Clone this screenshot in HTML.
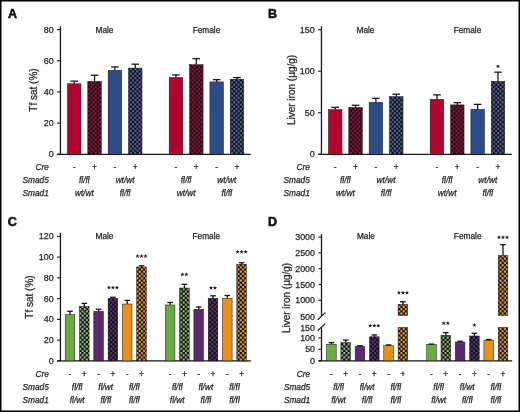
<!DOCTYPE html>
<html><head><meta charset="utf-8"><title>Figure</title>
<style>html,body{margin:0;padding:0;background:#fff;}body{width:520px;height:412px;overflow:hidden;font-family:"Liberation Sans", sans-serif;}svg{display:block;will-change:transform;}</style>
</head><body>
<svg width="520" height="412" viewBox="0 0 520 412" font-family='"Liberation Sans", sans-serif'><defs><pattern id="pred" patternUnits="userSpaceOnUse" width="4.4" height="4.4"><rect width="4.4" height="4.4" fill="#2a0410"/><rect x="0.1" y="0.1" width="2" height="2" rx="0.5" fill="#84203f"/><rect x="2.3" y="2.3" width="2" height="2" rx="0.5" fill="#84203f"/></pattern><pattern id="pblue" patternUnits="userSpaceOnUse" width="4.4" height="4.4"><rect width="4.4" height="4.4" fill="#0a0c20"/><rect x="0.1" y="0.1" width="2" height="2" rx="0.5" fill="#5f6e92"/><rect x="2.3" y="2.3" width="2" height="2" rx="0.5" fill="#5f6e92"/></pattern><pattern id="pgreen" patternUnits="userSpaceOnUse" width="4.4" height="4.4"><rect width="4.4" height="4.4" fill="#040a02"/><rect x="0.1" y="0.1" width="2" height="2" rx="0.5" fill="#a2c888"/><rect x="2.3" y="2.3" width="2" height="2" rx="0.5" fill="#a2c888"/></pattern><pattern id="ppurple" patternUnits="userSpaceOnUse" width="4.4" height="4.4"><rect width="4.4" height="4.4" fill="#10061a"/><rect x="0.1" y="0.1" width="2" height="2" rx="0.5" fill="#5e4676"/><rect x="2.3" y="2.3" width="2" height="2" rx="0.5" fill="#5e4676"/></pattern><pattern id="porange" patternUnits="userSpaceOnUse" width="4.4" height="4.4"><rect width="4.4" height="4.4" fill="#120800"/><rect x="0.1" y="0.1" width="2" height="2" rx="0.5" fill="#f0b45c"/><rect x="2.3" y="2.3" width="2" height="2" rx="0.5" fill="#f0b45c"/></pattern></defs><rect width="520" height="412" fill="#fff"/><text x="8.1" y="18.4" font-size="12.5" text-anchor="start" fill="#111" stroke="#111" stroke-width="0.55" font-weight="bold">A</text><line x1="60.45" y1="26.4" x2="60.45" y2="154.3" stroke="#161616" stroke-width="1.3"/><line x1="57" y1="154.3" x2="250.8" y2="154.3" stroke="#161616" stroke-width="1.3"/><line x1="57" y1="154.3" x2="60.45" y2="154.3" stroke="#161616" stroke-width="1.1"/><text x="53.6" y="157.3" font-size="8.9" text-anchor="end" fill="#1e1e1e" stroke="#1e1e1e" stroke-width="0.25">0</text><line x1="57" y1="123.12" x2="60.45" y2="123.12" stroke="#161616" stroke-width="1.1"/><text x="53.6" y="126.12" font-size="8.9" text-anchor="end" fill="#1e1e1e" stroke="#1e1e1e" stroke-width="0.25">20</text><line x1="57" y1="91.94" x2="60.45" y2="91.94" stroke="#161616" stroke-width="1.1"/><text x="53.6" y="94.94" font-size="8.9" text-anchor="end" fill="#1e1e1e" stroke="#1e1e1e" stroke-width="0.25">40</text><line x1="57" y1="60.76" x2="60.45" y2="60.76" stroke="#161616" stroke-width="1.1"/><text x="53.6" y="63.76" font-size="8.9" text-anchor="end" fill="#1e1e1e" stroke="#1e1e1e" stroke-width="0.25">60</text><line x1="57" y1="29.58" x2="60.45" y2="29.58" stroke="#161616" stroke-width="1.1"/><text x="53.6" y="32.58" font-size="8.9" text-anchor="end" fill="#1e1e1e" stroke="#1e1e1e" stroke-width="0.25">80</text><text transform="translate(37.3,90) rotate(-90)" font-size="10" text-anchor="middle" fill="#1e1e1e" stroke="#1e1e1e" stroke-width="0.25">Tf sat (%)</text><text x="104.5" y="32.5" font-size="8.3" text-anchor="middle" fill="#1e1e1e" stroke="#1e1e1e" stroke-width="0.25">Male</text><text x="206.5" y="32.5" font-size="8.3" text-anchor="middle" fill="#1e1e1e" stroke="#1e1e1e" stroke-width="0.25">Female</text><rect x="67.45" y="83.8" width="13.5" height="70.5" fill="#b0032f" stroke="#1a0a10" stroke-width="0.5"/><line x1="74.2" y1="81.15" x2="74.2" y2="83.8" stroke="#161616" stroke-width="1.3"/><line x1="70.4" y1="81.15" x2="78" y2="81.15" stroke="#161616" stroke-width="1.3"/><rect x="87.8" y="81.4" width="13.5" height="72.9" fill="url(#pred)" stroke="#1a0a10" stroke-width="0.5"/><line x1="94.55" y1="75.25" x2="94.55" y2="81.4" stroke="#161616" stroke-width="1.3"/><line x1="90.75" y1="75.25" x2="98.35" y2="75.25" stroke="#161616" stroke-width="1.3"/><rect x="108.15" y="70.3" width="13.5" height="84" fill="#2e4c84" stroke="#1a0a10" stroke-width="0.5"/><line x1="114.9" y1="66.95" x2="114.9" y2="70.3" stroke="#161616" stroke-width="1.3"/><line x1="111.1" y1="66.95" x2="118.7" y2="66.95" stroke="#161616" stroke-width="1.3"/><rect x="128.5" y="68.1" width="13.5" height="86.2" fill="url(#pblue)" stroke="#1a0a10" stroke-width="0.5"/><line x1="135.25" y1="64.15" x2="135.25" y2="68.1" stroke="#161616" stroke-width="1.3"/><line x1="131.45" y1="64.15" x2="139.05" y2="64.15" stroke="#161616" stroke-width="1.3"/><rect x="169.2" y="77.5" width="13.5" height="76.8" fill="#b0032f" stroke="#1a0a10" stroke-width="0.5"/><line x1="175.95" y1="74.95" x2="175.95" y2="77.5" stroke="#161616" stroke-width="1.3"/><line x1="172.15" y1="74.95" x2="179.75" y2="74.95" stroke="#161616" stroke-width="1.3"/><rect x="189.55" y="64.7" width="13.5" height="89.6" fill="url(#pred)" stroke="#1a0a10" stroke-width="0.5"/><line x1="196.3" y1="58.65" x2="196.3" y2="64.7" stroke="#161616" stroke-width="1.3"/><line x1="192.5" y1="58.65" x2="200.1" y2="58.65" stroke="#161616" stroke-width="1.3"/><rect x="209.9" y="81.9" width="13.5" height="72.4" fill="#2e4c84" stroke="#1a0a10" stroke-width="0.5"/><line x1="216.65" y1="79.65" x2="216.65" y2="81.9" stroke="#161616" stroke-width="1.3"/><line x1="212.85" y1="79.65" x2="220.45" y2="79.65" stroke="#161616" stroke-width="1.3"/><rect x="230.25" y="79.2" width="13.5" height="75.1" fill="url(#pblue)" stroke="#1a0a10" stroke-width="0.5"/><line x1="237" y1="77.55" x2="237" y2="79.2" stroke="#161616" stroke-width="1.3"/><line x1="233.2" y1="77.55" x2="240.8" y2="77.55" stroke="#161616" stroke-width="1.3"/><text x="48.8" y="170.2" font-size="8.3" text-anchor="end" fill="#1e1e1e" stroke="#1e1e1e" stroke-width="0.25" font-style="italic">Cre</text><text x="48.8" y="183.3" font-size="8.3" text-anchor="end" fill="#1e1e1e" stroke="#1e1e1e" stroke-width="0.25" font-style="italic">Smad5</text><text x="48.8" y="196.2" font-size="8.3" text-anchor="end" fill="#1e1e1e" stroke="#1e1e1e" stroke-width="0.25" font-style="italic">Smad1</text><text x="74.2" y="170.4" font-size="8.3" text-anchor="middle" fill="#1e1e1e" stroke="#1e1e1e" stroke-width="0.25">-</text><text x="94.55" y="170.4" font-size="8.3" text-anchor="middle" fill="#1e1e1e" stroke="#1e1e1e" stroke-width="0.25">+</text><text x="114.9" y="170.4" font-size="8.3" text-anchor="middle" fill="#1e1e1e" stroke="#1e1e1e" stroke-width="0.25">-</text><text x="135.25" y="170.4" font-size="8.3" text-anchor="middle" fill="#1e1e1e" stroke="#1e1e1e" stroke-width="0.25">+</text><text x="175.95" y="170.4" font-size="8.3" text-anchor="middle" fill="#1e1e1e" stroke="#1e1e1e" stroke-width="0.25">-</text><text x="196.3" y="170.4" font-size="8.3" text-anchor="middle" fill="#1e1e1e" stroke="#1e1e1e" stroke-width="0.25">+</text><text x="216.65" y="170.4" font-size="8.3" text-anchor="middle" fill="#1e1e1e" stroke="#1e1e1e" stroke-width="0.25">-</text><text x="237" y="170.4" font-size="8.3" text-anchor="middle" fill="#1e1e1e" stroke="#1e1e1e" stroke-width="0.25">+</text><text x="84.38" y="183.3" font-size="8.3" text-anchor="middle" fill="#1e1e1e" stroke="#1e1e1e" stroke-width="0.25" font-style="italic">fl/fl</text><text x="84.38" y="196.2" font-size="8.3" text-anchor="middle" fill="#1e1e1e" stroke="#1e1e1e" stroke-width="0.25" font-style="italic">wt/wt</text><text x="125.08" y="183.3" font-size="8.3" text-anchor="middle" fill="#1e1e1e" stroke="#1e1e1e" stroke-width="0.25" font-style="italic">wt/wt</text><text x="125.08" y="196.2" font-size="8.3" text-anchor="middle" fill="#1e1e1e" stroke="#1e1e1e" stroke-width="0.25" font-style="italic">fl/fl</text><text x="186.12" y="183.3" font-size="8.3" text-anchor="middle" fill="#1e1e1e" stroke="#1e1e1e" stroke-width="0.25" font-style="italic">fl/fl</text><text x="186.12" y="196.2" font-size="8.3" text-anchor="middle" fill="#1e1e1e" stroke="#1e1e1e" stroke-width="0.25" font-style="italic">wt/wt</text><text x="226.82" y="183.3" font-size="8.3" text-anchor="middle" fill="#1e1e1e" stroke="#1e1e1e" stroke-width="0.25" font-style="italic">wt/wt</text><text x="226.82" y="196.2" font-size="8.3" text-anchor="middle" fill="#1e1e1e" stroke="#1e1e1e" stroke-width="0.25" font-style="italic">fl/fl</text><text x="268" y="18.4" font-size="12.5" text-anchor="start" fill="#111" stroke="#111" stroke-width="0.55" font-weight="bold">B</text><line x1="321.45" y1="26.3" x2="321.45" y2="154.3" stroke="#161616" stroke-width="1.3"/><line x1="318" y1="154.3" x2="511.8" y2="154.3" stroke="#161616" stroke-width="1.3"/><line x1="318" y1="154.3" x2="321.45" y2="154.3" stroke="#161616" stroke-width="1.1"/><text x="314.6" y="157.3" font-size="8.9" text-anchor="end" fill="#1e1e1e" stroke="#1e1e1e" stroke-width="0.25">0</text><line x1="318" y1="112.77" x2="321.45" y2="112.77" stroke="#161616" stroke-width="1.1"/><text x="314.6" y="115.77" font-size="8.9" text-anchor="end" fill="#1e1e1e" stroke="#1e1e1e" stroke-width="0.25">50</text><line x1="318" y1="71.23" x2="321.45" y2="71.23" stroke="#161616" stroke-width="1.1"/><text x="314.6" y="74.23" font-size="8.9" text-anchor="end" fill="#1e1e1e" stroke="#1e1e1e" stroke-width="0.25">100</text><line x1="318" y1="29.7" x2="321.45" y2="29.7" stroke="#161616" stroke-width="1.1"/><text x="314.6" y="32.7" font-size="8.9" text-anchor="end" fill="#1e1e1e" stroke="#1e1e1e" stroke-width="0.25">150</text><text transform="translate(294.9,90) rotate(-90)" font-size="10" text-anchor="middle" fill="#1e1e1e" stroke="#1e1e1e" stroke-width="0.25">Liver iron (µg/g)</text><text x="365.5" y="32.5" font-size="8.3" text-anchor="middle" fill="#1e1e1e" stroke="#1e1e1e" stroke-width="0.25">Male</text><text x="467.5" y="32.5" font-size="8.3" text-anchor="middle" fill="#1e1e1e" stroke="#1e1e1e" stroke-width="0.25">Female</text><rect x="328.45" y="109.6" width="13.5" height="44.7" fill="#b0032f" stroke="#1a0a10" stroke-width="0.5"/><line x1="335.2" y1="107.35" x2="335.2" y2="109.6" stroke="#161616" stroke-width="1.3"/><line x1="331.4" y1="107.35" x2="339" y2="107.35" stroke="#161616" stroke-width="1.3"/><rect x="348.8" y="107.5" width="13.5" height="46.8" fill="url(#pred)" stroke="#1a0a10" stroke-width="0.5"/><line x1="355.55" y1="105.25" x2="355.55" y2="107.5" stroke="#161616" stroke-width="1.3"/><line x1="351.75" y1="105.25" x2="359.35" y2="105.25" stroke="#161616" stroke-width="1.3"/><rect x="369.15" y="102.3" width="13.5" height="52" fill="#2e4c84" stroke="#1a0a10" stroke-width="0.5"/><line x1="375.9" y1="98.35" x2="375.9" y2="102.3" stroke="#161616" stroke-width="1.3"/><line x1="372.1" y1="98.35" x2="379.7" y2="98.35" stroke="#161616" stroke-width="1.3"/><rect x="389.5" y="96.7" width="13.5" height="57.6" fill="url(#pblue)" stroke="#1a0a10" stroke-width="0.5"/><line x1="396.25" y1="94.15" x2="396.25" y2="96.7" stroke="#161616" stroke-width="1.3"/><line x1="392.45" y1="94.15" x2="400.05" y2="94.15" stroke="#161616" stroke-width="1.3"/><rect x="430.2" y="99.4" width="13.5" height="54.9" fill="#b0032f" stroke="#1a0a10" stroke-width="0.5"/><line x1="436.95" y1="94.85" x2="436.95" y2="99.4" stroke="#161616" stroke-width="1.3"/><line x1="433.15" y1="94.85" x2="440.75" y2="94.85" stroke="#161616" stroke-width="1.3"/><rect x="450.55" y="104.9" width="13.5" height="49.4" fill="url(#pred)" stroke="#1a0a10" stroke-width="0.5"/><line x1="457.3" y1="102.65" x2="457.3" y2="104.9" stroke="#161616" stroke-width="1.3"/><line x1="453.5" y1="102.65" x2="461.1" y2="102.65" stroke="#161616" stroke-width="1.3"/><rect x="470.9" y="109.3" width="13.5" height="45" fill="#2e4c84" stroke="#1a0a10" stroke-width="0.5"/><line x1="477.65" y1="104.35" x2="477.65" y2="109.3" stroke="#161616" stroke-width="1.3"/><line x1="473.85" y1="104.35" x2="481.45" y2="104.35" stroke="#161616" stroke-width="1.3"/><rect x="491.25" y="81.4" width="13.5" height="72.9" fill="url(#pblue)" stroke="#1a0a10" stroke-width="0.5"/><line x1="498" y1="72.15" x2="498" y2="81.4" stroke="#161616" stroke-width="1.3"/><line x1="494.2" y1="72.15" x2="501.8" y2="72.15" stroke="#161616" stroke-width="1.3"/><path d="M498 66.4L498 65.1M498 66.4L499.24 66M498 66.4L496.76 66M498 66.4L497.24 67.45M498 66.4L498.76 67.45" stroke="#161616" stroke-width="0.9" stroke-linecap="round" fill="none"/><circle cx="498" cy="66.4" r="0.7" fill="#161616"/><text x="309.8" y="170.2" font-size="8.3" text-anchor="end" fill="#1e1e1e" stroke="#1e1e1e" stroke-width="0.25" font-style="italic">Cre</text><text x="309.8" y="183.3" font-size="8.3" text-anchor="end" fill="#1e1e1e" stroke="#1e1e1e" stroke-width="0.25" font-style="italic">Smad5</text><text x="309.8" y="196.2" font-size="8.3" text-anchor="end" fill="#1e1e1e" stroke="#1e1e1e" stroke-width="0.25" font-style="italic">Smad1</text><text x="335.2" y="170.4" font-size="8.3" text-anchor="middle" fill="#1e1e1e" stroke="#1e1e1e" stroke-width="0.25">-</text><text x="355.55" y="170.4" font-size="8.3" text-anchor="middle" fill="#1e1e1e" stroke="#1e1e1e" stroke-width="0.25">+</text><text x="375.9" y="170.4" font-size="8.3" text-anchor="middle" fill="#1e1e1e" stroke="#1e1e1e" stroke-width="0.25">-</text><text x="396.25" y="170.4" font-size="8.3" text-anchor="middle" fill="#1e1e1e" stroke="#1e1e1e" stroke-width="0.25">+</text><text x="436.95" y="170.4" font-size="8.3" text-anchor="middle" fill="#1e1e1e" stroke="#1e1e1e" stroke-width="0.25">-</text><text x="457.3" y="170.4" font-size="8.3" text-anchor="middle" fill="#1e1e1e" stroke="#1e1e1e" stroke-width="0.25">+</text><text x="477.65" y="170.4" font-size="8.3" text-anchor="middle" fill="#1e1e1e" stroke="#1e1e1e" stroke-width="0.25">-</text><text x="498" y="170.4" font-size="8.3" text-anchor="middle" fill="#1e1e1e" stroke="#1e1e1e" stroke-width="0.25">+</text><text x="345.38" y="183.3" font-size="8.3" text-anchor="middle" fill="#1e1e1e" stroke="#1e1e1e" stroke-width="0.25" font-style="italic">fl/fl</text><text x="345.38" y="196.2" font-size="8.3" text-anchor="middle" fill="#1e1e1e" stroke="#1e1e1e" stroke-width="0.25" font-style="italic">wt/wt</text><text x="386.07" y="183.3" font-size="8.3" text-anchor="middle" fill="#1e1e1e" stroke="#1e1e1e" stroke-width="0.25" font-style="italic">wt/wt</text><text x="386.07" y="196.2" font-size="8.3" text-anchor="middle" fill="#1e1e1e" stroke="#1e1e1e" stroke-width="0.25" font-style="italic">fl/fl</text><text x="447.12" y="183.3" font-size="8.3" text-anchor="middle" fill="#1e1e1e" stroke="#1e1e1e" stroke-width="0.25" font-style="italic">fl/fl</text><text x="447.12" y="196.2" font-size="8.3" text-anchor="middle" fill="#1e1e1e" stroke="#1e1e1e" stroke-width="0.25" font-style="italic">wt/wt</text><text x="487.82" y="183.3" font-size="8.3" text-anchor="middle" fill="#1e1e1e" stroke="#1e1e1e" stroke-width="0.25" font-style="italic">wt/wt</text><text x="487.82" y="196.2" font-size="8.3" text-anchor="middle" fill="#1e1e1e" stroke="#1e1e1e" stroke-width="0.25" font-style="italic">fl/fl</text><text x="7.8" y="225.5" font-size="12.5" text-anchor="start" fill="#111" stroke="#111" stroke-width="0.55" font-weight="bold">C</text><line x1="60.45" y1="232.8" x2="60.45" y2="360.9" stroke="#161616" stroke-width="1.3"/><line x1="57" y1="360.9" x2="250.8" y2="360.9" stroke="#161616" stroke-width="1.3"/><line x1="57" y1="360.9" x2="60.45" y2="360.9" stroke="#161616" stroke-width="1.1"/><text x="53.6" y="363.9" font-size="8.9" text-anchor="end" fill="#1e1e1e" stroke="#1e1e1e" stroke-width="0.25">0</text><line x1="57" y1="340.14" x2="60.45" y2="340.14" stroke="#161616" stroke-width="1.1"/><text x="53.6" y="343.14" font-size="8.9" text-anchor="end" fill="#1e1e1e" stroke="#1e1e1e" stroke-width="0.25">20</text><line x1="57" y1="319.38" x2="60.45" y2="319.38" stroke="#161616" stroke-width="1.1"/><text x="53.6" y="322.38" font-size="8.9" text-anchor="end" fill="#1e1e1e" stroke="#1e1e1e" stroke-width="0.25">40</text><line x1="57" y1="298.62" x2="60.45" y2="298.62" stroke="#161616" stroke-width="1.1"/><text x="53.6" y="301.62" font-size="8.9" text-anchor="end" fill="#1e1e1e" stroke="#1e1e1e" stroke-width="0.25">60</text><line x1="57" y1="277.86" x2="60.45" y2="277.86" stroke="#161616" stroke-width="1.1"/><text x="53.6" y="280.86" font-size="8.9" text-anchor="end" fill="#1e1e1e" stroke="#1e1e1e" stroke-width="0.25">80</text><line x1="57" y1="257.1" x2="60.45" y2="257.1" stroke="#161616" stroke-width="1.1"/><text x="53.6" y="260.1" font-size="8.9" text-anchor="end" fill="#1e1e1e" stroke="#1e1e1e" stroke-width="0.25">100</text><line x1="57" y1="236.34" x2="60.45" y2="236.34" stroke="#161616" stroke-width="1.1"/><text x="53.6" y="239.34" font-size="8.9" text-anchor="end" fill="#1e1e1e" stroke="#1e1e1e" stroke-width="0.25">120</text><text transform="translate(33,297) rotate(-90)" font-size="10" text-anchor="middle" fill="#1e1e1e" stroke="#1e1e1e" stroke-width="0.25">Tf sat (%)</text><text x="104.5" y="239.3" font-size="8.3" text-anchor="middle" fill="#1e1e1e" stroke="#1e1e1e" stroke-width="0.25">Male</text><text x="206.3" y="239.3" font-size="8.3" text-anchor="middle" fill="#1e1e1e" stroke="#1e1e1e" stroke-width="0.25">Female</text><rect x="65.2" y="314.7" width="9.6" height="46.2" fill="#6aab42" stroke="#1a0a10" stroke-width="0.5"/><line x1="70" y1="311.3" x2="70" y2="314.7" stroke="#161616" stroke-width="1.3"/><line x1="67.2" y1="311.3" x2="72.8" y2="311.3" stroke="#161616" stroke-width="1.3"/><rect x="79.5" y="306.4" width="9.6" height="54.5" fill="url(#pgreen)" stroke="#1a0a10" stroke-width="0.5"/><line x1="84.3" y1="303.4" x2="84.3" y2="306.4" stroke="#161616" stroke-width="1.3"/><line x1="81.5" y1="303.4" x2="87.1" y2="303.4" stroke="#161616" stroke-width="1.3"/><rect x="93.8" y="311.3" width="9.6" height="49.6" fill="#5b2a70" stroke="#1a0a10" stroke-width="0.5"/><line x1="98.6" y1="309.3" x2="98.6" y2="311.3" stroke="#161616" stroke-width="1.3"/><line x1="95.8" y1="309.3" x2="101.4" y2="309.3" stroke="#161616" stroke-width="1.3"/><rect x="108.1" y="298.3" width="9.6" height="62.6" fill="url(#ppurple)" stroke="#1a0a10" stroke-width="0.5"/><line x1="112.9" y1="297.3" x2="112.9" y2="298.3" stroke="#161616" stroke-width="1.3"/><line x1="110.1" y1="297.3" x2="115.7" y2="297.3" stroke="#161616" stroke-width="1.3"/><rect x="122.4" y="304" width="9.6" height="56.9" fill="#e6921b" stroke="#1a0a10" stroke-width="0.5"/><line x1="127.2" y1="300.4" x2="127.2" y2="304" stroke="#161616" stroke-width="1.3"/><line x1="124.4" y1="300.4" x2="130" y2="300.4" stroke="#161616" stroke-width="1.3"/><rect x="136.7" y="267" width="9.6" height="93.9" fill="url(#porange)" stroke="#1a0a10" stroke-width="0.5"/><line x1="141.5" y1="265.8" x2="141.5" y2="267" stroke="#161616" stroke-width="1.3"/><line x1="138.7" y1="265.8" x2="144.3" y2="265.8" stroke="#161616" stroke-width="1.3"/><rect x="165.3" y="305" width="9.6" height="55.9" fill="#6aab42" stroke="#1a0a10" stroke-width="0.5"/><line x1="170.1" y1="302.5" x2="170.1" y2="305" stroke="#161616" stroke-width="1.3"/><line x1="167.3" y1="302.5" x2="172.9" y2="302.5" stroke="#161616" stroke-width="1.3"/><rect x="179.6" y="288" width="9.6" height="72.9" fill="url(#pgreen)" stroke="#1a0a10" stroke-width="0.5"/><line x1="184.4" y1="284.3" x2="184.4" y2="288" stroke="#161616" stroke-width="1.3"/><line x1="181.6" y1="284.3" x2="187.2" y2="284.3" stroke="#161616" stroke-width="1.3"/><rect x="193.9" y="309.3" width="9.6" height="51.6" fill="#5b2a70" stroke="#1a0a10" stroke-width="0.5"/><line x1="198.7" y1="307" x2="198.7" y2="309.3" stroke="#161616" stroke-width="1.3"/><line x1="195.9" y1="307" x2="201.5" y2="307" stroke="#161616" stroke-width="1.3"/><rect x="208.2" y="298.3" width="9.6" height="62.6" fill="url(#ppurple)" stroke="#1a0a10" stroke-width="0.5"/><line x1="213" y1="295.8" x2="213" y2="298.3" stroke="#161616" stroke-width="1.3"/><line x1="210.2" y1="295.8" x2="215.8" y2="295.8" stroke="#161616" stroke-width="1.3"/><rect x="222.5" y="298.3" width="9.6" height="62.6" fill="#e6921b" stroke="#1a0a10" stroke-width="0.5"/><line x1="227.3" y1="295.5" x2="227.3" y2="298.3" stroke="#161616" stroke-width="1.3"/><line x1="224.5" y1="295.5" x2="230.1" y2="295.5" stroke="#161616" stroke-width="1.3"/><rect x="236.8" y="264.3" width="9.6" height="96.6" fill="url(#porange)" stroke="#1a0a10" stroke-width="0.5"/><line x1="241.6" y1="262.7" x2="241.6" y2="264.3" stroke="#161616" stroke-width="1.3"/><line x1="238.8" y1="262.7" x2="244.4" y2="262.7" stroke="#161616" stroke-width="1.3"/><path d="M108.9 287.6L108.9 286.3M108.9 287.6L110.14 287.2M108.9 287.6L107.66 287.2M108.9 287.6L108.14 288.65M108.9 287.6L109.66 288.65" stroke="#161616" stroke-width="0.9" stroke-linecap="round" fill="none"/><circle cx="108.9" cy="287.6" r="0.7" fill="#161616"/><path d="M112.9 287.6L112.9 286.3M112.9 287.6L114.14 287.2M112.9 287.6L111.66 287.2M112.9 287.6L112.14 288.65M112.9 287.6L113.66 288.65" stroke="#161616" stroke-width="0.9" stroke-linecap="round" fill="none"/><circle cx="112.9" cy="287.6" r="0.7" fill="#161616"/><path d="M116.9 287.6L116.9 286.3M116.9 287.6L118.14 287.2M116.9 287.6L115.66 287.2M116.9 287.6L116.14 288.65M116.9 287.6L117.66 288.65" stroke="#161616" stroke-width="0.9" stroke-linecap="round" fill="none"/><circle cx="116.9" cy="287.6" r="0.7" fill="#161616"/><path d="M137.5 256.3L137.5 255M137.5 256.3L138.74 255.9M137.5 256.3L136.26 255.9M137.5 256.3L136.74 257.35M137.5 256.3L138.26 257.35" stroke="#161616" stroke-width="0.9" stroke-linecap="round" fill="none"/><circle cx="137.5" cy="256.3" r="0.7" fill="#161616"/><path d="M141.5 256.3L141.5 255M141.5 256.3L142.74 255.9M141.5 256.3L140.26 255.9M141.5 256.3L140.74 257.35M141.5 256.3L142.26 257.35" stroke="#161616" stroke-width="0.9" stroke-linecap="round" fill="none"/><circle cx="141.5" cy="256.3" r="0.7" fill="#161616"/><path d="M145.5 256.3L145.5 255M145.5 256.3L146.74 255.9M145.5 256.3L144.26 255.9M145.5 256.3L144.74 257.35M145.5 256.3L146.26 257.35" stroke="#161616" stroke-width="0.9" stroke-linecap="round" fill="none"/><circle cx="145.5" cy="256.3" r="0.7" fill="#161616"/><path d="M182.4 274.5L182.4 273.2M182.4 274.5L183.64 274.1M182.4 274.5L181.16 274.1M182.4 274.5L181.64 275.55M182.4 274.5L183.16 275.55" stroke="#161616" stroke-width="0.9" stroke-linecap="round" fill="none"/><circle cx="182.4" cy="274.5" r="0.7" fill="#161616"/><path d="M186.4 274.5L186.4 273.2M186.4 274.5L187.64 274.1M186.4 274.5L185.16 274.1M186.4 274.5L185.64 275.55M186.4 274.5L187.16 275.55" stroke="#161616" stroke-width="0.9" stroke-linecap="round" fill="none"/><circle cx="186.4" cy="274.5" r="0.7" fill="#161616"/><path d="M211 288L211 286.7M211 288L212.24 287.6M211 288L209.76 287.6M211 288L210.24 289.05M211 288L211.76 289.05" stroke="#161616" stroke-width="0.9" stroke-linecap="round" fill="none"/><circle cx="211" cy="288" r="0.7" fill="#161616"/><path d="M215 288L215 286.7M215 288L216.24 287.6M215 288L213.76 287.6M215 288L214.24 289.05M215 288L215.76 289.05" stroke="#161616" stroke-width="0.9" stroke-linecap="round" fill="none"/><circle cx="215" cy="288" r="0.7" fill="#161616"/><path d="M237.6 252L237.6 250.7M237.6 252L238.84 251.6M237.6 252L236.36 251.6M237.6 252L236.84 253.05M237.6 252L238.36 253.05" stroke="#161616" stroke-width="0.9" stroke-linecap="round" fill="none"/><circle cx="237.6" cy="252" r="0.7" fill="#161616"/><path d="M241.6 252L241.6 250.7M241.6 252L242.84 251.6M241.6 252L240.36 251.6M241.6 252L240.84 253.05M241.6 252L242.36 253.05" stroke="#161616" stroke-width="0.9" stroke-linecap="round" fill="none"/><circle cx="241.6" cy="252" r="0.7" fill="#161616"/><path d="M245.6 252L245.6 250.7M245.6 252L246.84 251.6M245.6 252L244.36 251.6M245.6 252L244.84 253.05M245.6 252L246.36 253.05" stroke="#161616" stroke-width="0.9" stroke-linecap="round" fill="none"/><circle cx="245.6" cy="252" r="0.7" fill="#161616"/><text x="48.8" y="376.6" font-size="8.3" text-anchor="end" fill="#1e1e1e" stroke="#1e1e1e" stroke-width="0.25" font-style="italic">Cre</text><text x="48.8" y="389.6" font-size="8.3" text-anchor="end" fill="#1e1e1e" stroke="#1e1e1e" stroke-width="0.25" font-style="italic">Smad5</text><text x="48.8" y="402.6" font-size="8.3" text-anchor="end" fill="#1e1e1e" stroke="#1e1e1e" stroke-width="0.25" font-style="italic">Smad1</text><text x="70" y="377.4" font-size="8.3" text-anchor="middle" fill="#1e1e1e" stroke="#1e1e1e" stroke-width="0.25">-</text><text x="84.3" y="377.4" font-size="8.3" text-anchor="middle" fill="#1e1e1e" stroke="#1e1e1e" stroke-width="0.25">+</text><text x="98.6" y="377.4" font-size="8.3" text-anchor="middle" fill="#1e1e1e" stroke="#1e1e1e" stroke-width="0.25">-</text><text x="112.9" y="377.4" font-size="8.3" text-anchor="middle" fill="#1e1e1e" stroke="#1e1e1e" stroke-width="0.25">+</text><text x="127.2" y="377.4" font-size="8.3" text-anchor="middle" fill="#1e1e1e" stroke="#1e1e1e" stroke-width="0.25">-</text><text x="141.5" y="377.4" font-size="8.3" text-anchor="middle" fill="#1e1e1e" stroke="#1e1e1e" stroke-width="0.25">+</text><text x="170.1" y="377.4" font-size="8.3" text-anchor="middle" fill="#1e1e1e" stroke="#1e1e1e" stroke-width="0.25">-</text><text x="184.4" y="377.4" font-size="8.3" text-anchor="middle" fill="#1e1e1e" stroke="#1e1e1e" stroke-width="0.25">+</text><text x="198.7" y="377.4" font-size="8.3" text-anchor="middle" fill="#1e1e1e" stroke="#1e1e1e" stroke-width="0.25">-</text><text x="213" y="377.4" font-size="8.3" text-anchor="middle" fill="#1e1e1e" stroke="#1e1e1e" stroke-width="0.25">+</text><text x="227.3" y="377.4" font-size="8.3" text-anchor="middle" fill="#1e1e1e" stroke="#1e1e1e" stroke-width="0.25">-</text><text x="241.6" y="377.4" font-size="8.3" text-anchor="middle" fill="#1e1e1e" stroke="#1e1e1e" stroke-width="0.25">+</text><text x="77.15" y="389.6" font-size="8.3" text-anchor="middle" fill="#1e1e1e" stroke="#1e1e1e" stroke-width="0.25" font-style="italic">fl/fl</text><text x="77.15" y="402.6" font-size="8.3" text-anchor="middle" fill="#1e1e1e" stroke="#1e1e1e" stroke-width="0.25" font-style="italic">fl/wt</text><text x="105.75" y="389.6" font-size="8.3" text-anchor="middle" fill="#1e1e1e" stroke="#1e1e1e" stroke-width="0.25" font-style="italic">fl/wt</text><text x="105.75" y="402.6" font-size="8.3" text-anchor="middle" fill="#1e1e1e" stroke="#1e1e1e" stroke-width="0.25" font-style="italic">fl/fl</text><text x="134.35" y="389.6" font-size="8.3" text-anchor="middle" fill="#1e1e1e" stroke="#1e1e1e" stroke-width="0.25" font-style="italic">fl/fl</text><text x="134.35" y="402.6" font-size="8.3" text-anchor="middle" fill="#1e1e1e" stroke="#1e1e1e" stroke-width="0.25" font-style="italic">fl/fl</text><text x="177.25" y="389.6" font-size="8.3" text-anchor="middle" fill="#1e1e1e" stroke="#1e1e1e" stroke-width="0.25" font-style="italic">fl/fl</text><text x="177.25" y="402.6" font-size="8.3" text-anchor="middle" fill="#1e1e1e" stroke="#1e1e1e" stroke-width="0.25" font-style="italic">fl/wt</text><text x="205.85" y="389.6" font-size="8.3" text-anchor="middle" fill="#1e1e1e" stroke="#1e1e1e" stroke-width="0.25" font-style="italic">fl/wt</text><text x="205.85" y="402.6" font-size="8.3" text-anchor="middle" fill="#1e1e1e" stroke="#1e1e1e" stroke-width="0.25" font-style="italic">fl/fl</text><text x="234.45" y="389.6" font-size="8.3" text-anchor="middle" fill="#1e1e1e" stroke="#1e1e1e" stroke-width="0.25" font-style="italic">fl/fl</text><text x="234.45" y="402.6" font-size="8.3" text-anchor="middle" fill="#1e1e1e" stroke="#1e1e1e" stroke-width="0.25" font-style="italic">fl/fl</text><text x="268" y="225.5" font-size="12.5" text-anchor="start" fill="#111" stroke="#111" stroke-width="0.55" font-weight="bold">D</text><line x1="321.5" y1="234.3" x2="321.5" y2="316.2" stroke="#161616" stroke-width="1.3"/><line x1="321.5" y1="327.2" x2="321.5" y2="360.8" stroke="#161616" stroke-width="1.3"/><line x1="318.4" y1="360.8" x2="512.2" y2="360.8" stroke="#161616" stroke-width="1.3"/><line x1="317.7" y1="319.8" x2="325.3" y2="312.6" stroke="#161616" stroke-width="1.2"/><line x1="317.7" y1="330.8" x2="325.3" y2="323.6" stroke="#161616" stroke-width="1.2"/><line x1="318.4" y1="360.8" x2="321.5" y2="360.8" stroke="#161616" stroke-width="1.1"/><text x="315" y="363.8" font-size="8.9" text-anchor="end" fill="#1e1e1e" stroke="#1e1e1e" stroke-width="0.25">0</text><line x1="318.4" y1="349.35" x2="321.5" y2="349.35" stroke="#161616" stroke-width="1.1"/><text x="315" y="352.35" font-size="8.9" text-anchor="end" fill="#1e1e1e" stroke="#1e1e1e" stroke-width="0.25">50</text><line x1="318.4" y1="337.9" x2="321.5" y2="337.9" stroke="#161616" stroke-width="1.1"/><text x="315" y="340.9" font-size="8.9" text-anchor="end" fill="#1e1e1e" stroke="#1e1e1e" stroke-width="0.25">100</text><text x="315" y="331" font-size="8.9" text-anchor="end" fill="#1e1e1e" stroke="#1e1e1e" stroke-width="0.25">150</text><line x1="318.4" y1="300.3" x2="321.5" y2="300.3" stroke="#161616" stroke-width="1.1"/><text x="315" y="303.3" font-size="8.9" text-anchor="end" fill="#1e1e1e" stroke="#1e1e1e" stroke-width="0.25">1000</text><line x1="318.4" y1="284.5" x2="321.5" y2="284.5" stroke="#161616" stroke-width="1.1"/><text x="315" y="287.5" font-size="8.9" text-anchor="end" fill="#1e1e1e" stroke="#1e1e1e" stroke-width="0.25">1500</text><line x1="318.4" y1="268.7" x2="321.5" y2="268.7" stroke="#161616" stroke-width="1.1"/><text x="315" y="271.7" font-size="8.9" text-anchor="end" fill="#1e1e1e" stroke="#1e1e1e" stroke-width="0.25">2000</text><line x1="318.4" y1="252.9" x2="321.5" y2="252.9" stroke="#161616" stroke-width="1.1"/><text x="315" y="255.9" font-size="8.9" text-anchor="end" fill="#1e1e1e" stroke="#1e1e1e" stroke-width="0.25">2500</text><line x1="318.4" y1="237.1" x2="321.5" y2="237.1" stroke="#161616" stroke-width="1.1"/><text x="315" y="240.1" font-size="8.9" text-anchor="end" fill="#1e1e1e" stroke="#1e1e1e" stroke-width="0.25">3000</text><text x="315" y="320" font-size="8.9" text-anchor="end" fill="#1e1e1e" stroke="#1e1e1e" stroke-width="0.25">500</text><text transform="translate(289.7,298) rotate(-90)" font-size="10" text-anchor="middle" fill="#1e1e1e" stroke="#1e1e1e" stroke-width="0.25">Liver iron (µg/g)</text><text x="365.9" y="239.3" font-size="8.3" text-anchor="middle" fill="#1e1e1e" stroke="#1e1e1e" stroke-width="0.25">Male</text><text x="467.7" y="239.3" font-size="8.3" text-anchor="middle" fill="#1e1e1e" stroke="#1e1e1e" stroke-width="0.25">Female</text><rect x="326.6" y="344.2" width="9.6" height="16.6" fill="#6aab42" stroke="#1a0a10" stroke-width="0.5"/><line x1="331.4" y1="342.6" x2="331.4" y2="344.2" stroke="#161616" stroke-width="1.3"/><line x1="328.6" y1="342.6" x2="334.2" y2="342.6" stroke="#161616" stroke-width="1.3"/><rect x="340.9" y="342.6" width="9.6" height="18.2" fill="url(#pgreen)" stroke="#1a0a10" stroke-width="0.5"/><line x1="345.7" y1="340" x2="345.7" y2="342.6" stroke="#161616" stroke-width="1.3"/><line x1="342.9" y1="340" x2="348.5" y2="340" stroke="#161616" stroke-width="1.3"/><rect x="355.2" y="346.5" width="9.6" height="14.3" fill="#5b2a70" stroke="#1a0a10" stroke-width="0.5"/><line x1="360" y1="345.7" x2="360" y2="346.5" stroke="#161616" stroke-width="1.3"/><line x1="357.2" y1="345.7" x2="362.8" y2="345.7" stroke="#161616" stroke-width="1.3"/><rect x="369.5" y="336.8" width="9.6" height="24" fill="url(#ppurple)" stroke="#1a0a10" stroke-width="0.5"/><line x1="374.3" y1="334.9" x2="374.3" y2="336.8" stroke="#161616" stroke-width="1.3"/><line x1="371.5" y1="334.9" x2="377.1" y2="334.9" stroke="#161616" stroke-width="1.3"/><rect x="383.8" y="345.5" width="9.6" height="15.3" fill="#e6921b" stroke="#1a0a10" stroke-width="0.5"/><line x1="388.6" y1="344.9" x2="388.6" y2="345.5" stroke="#161616" stroke-width="1.3"/><line x1="385.8" y1="344.9" x2="391.4" y2="344.9" stroke="#161616" stroke-width="1.3"/><rect x="426.7" y="344.7" width="9.6" height="16.1" fill="#6aab42" stroke="#1a0a10" stroke-width="0.5"/><line x1="431.5" y1="344.1" x2="431.5" y2="344.7" stroke="#161616" stroke-width="1.3"/><line x1="428.7" y1="344.1" x2="434.3" y2="344.1" stroke="#161616" stroke-width="1.3"/><rect x="441" y="335.3" width="9.6" height="25.5" fill="url(#pgreen)" stroke="#1a0a10" stroke-width="0.5"/><line x1="445.8" y1="332.6" x2="445.8" y2="335.3" stroke="#161616" stroke-width="1.3"/><line x1="443" y1="332.6" x2="448.6" y2="332.6" stroke="#161616" stroke-width="1.3"/><rect x="455.3" y="342" width="9.6" height="18.8" fill="#5b2a70" stroke="#1a0a10" stroke-width="0.5"/><line x1="460.1" y1="341.2" x2="460.1" y2="342" stroke="#161616" stroke-width="1.3"/><line x1="457.3" y1="341.2" x2="462.9" y2="341.2" stroke="#161616" stroke-width="1.3"/><rect x="469.6" y="336" width="9.6" height="24.8" fill="url(#ppurple)" stroke="#1a0a10" stroke-width="0.5"/><line x1="474.4" y1="333.3" x2="474.4" y2="336" stroke="#161616" stroke-width="1.3"/><line x1="471.6" y1="333.3" x2="477.2" y2="333.3" stroke="#161616" stroke-width="1.3"/><rect x="483.9" y="340.2" width="9.6" height="20.6" fill="#e6921b" stroke="#1a0a10" stroke-width="0.5"/><line x1="488.7" y1="339.5" x2="488.7" y2="340.2" stroke="#161616" stroke-width="1.3"/><line x1="485.9" y1="339.5" x2="491.5" y2="339.5" stroke="#161616" stroke-width="1.3"/><rect x="398.1" y="327.5" width="9.6" height="33.3" fill="url(#porange)" stroke="#1a0a10" stroke-width="0.5"/><rect x="398.1" y="304.4" width="9.6" height="11.2" fill="url(#porange)" stroke="#1a0a10" stroke-width="0.5"/><line x1="402.9" y1="301.7" x2="402.9" y2="304.4" stroke="#161616" stroke-width="1.3"/><line x1="400.1" y1="301.7" x2="405.7" y2="301.7" stroke="#161616" stroke-width="1.3"/><rect x="498.2" y="327.5" width="9.6" height="33.3" fill="url(#porange)" stroke="#1a0a10" stroke-width="0.5"/><rect x="498.2" y="255.5" width="9.6" height="60.1" fill="url(#porange)" stroke="#1a0a10" stroke-width="0.5"/><line x1="503" y1="244.6" x2="503" y2="255.5" stroke="#161616" stroke-width="1.3"/><line x1="500.2" y1="244.6" x2="505.8" y2="244.6" stroke="#161616" stroke-width="1.3"/><path d="M370.3 325.8L370.3 324.5M370.3 325.8L371.54 325.4M370.3 325.8L369.06 325.4M370.3 325.8L369.54 326.85M370.3 325.8L371.06 326.85" stroke="#161616" stroke-width="0.9" stroke-linecap="round" fill="none"/><circle cx="370.3" cy="325.8" r="0.7" fill="#161616"/><path d="M374.3 325.8L374.3 324.5M374.3 325.8L375.54 325.4M374.3 325.8L373.06 325.4M374.3 325.8L373.54 326.85M374.3 325.8L375.06 326.85" stroke="#161616" stroke-width="0.9" stroke-linecap="round" fill="none"/><circle cx="374.3" cy="325.8" r="0.7" fill="#161616"/><path d="M378.3 325.8L378.3 324.5M378.3 325.8L379.54 325.4M378.3 325.8L377.06 325.4M378.3 325.8L377.54 326.85M378.3 325.8L379.06 326.85" stroke="#161616" stroke-width="0.9" stroke-linecap="round" fill="none"/><circle cx="378.3" cy="325.8" r="0.7" fill="#161616"/><path d="M398.9 292.9L398.9 291.6M398.9 292.9L400.14 292.5M398.9 292.9L397.66 292.5M398.9 292.9L398.14 293.95M398.9 292.9L399.66 293.95" stroke="#161616" stroke-width="0.9" stroke-linecap="round" fill="none"/><circle cx="398.9" cy="292.9" r="0.7" fill="#161616"/><path d="M402.9 292.9L402.9 291.6M402.9 292.9L404.14 292.5M402.9 292.9L401.66 292.5M402.9 292.9L402.14 293.95M402.9 292.9L403.66 293.95" stroke="#161616" stroke-width="0.9" stroke-linecap="round" fill="none"/><circle cx="402.9" cy="292.9" r="0.7" fill="#161616"/><path d="M406.9 292.9L406.9 291.6M406.9 292.9L408.14 292.5M406.9 292.9L405.66 292.5M406.9 292.9L406.14 293.95M406.9 292.9L407.66 293.95" stroke="#161616" stroke-width="0.9" stroke-linecap="round" fill="none"/><circle cx="406.9" cy="292.9" r="0.7" fill="#161616"/><path d="M443.8 323.3L443.8 322M443.8 323.3L445.04 322.9M443.8 323.3L442.56 322.9M443.8 323.3L443.04 324.35M443.8 323.3L444.56 324.35" stroke="#161616" stroke-width="0.9" stroke-linecap="round" fill="none"/><circle cx="443.8" cy="323.3" r="0.7" fill="#161616"/><path d="M447.8 323.3L447.8 322M447.8 323.3L449.04 322.9M447.8 323.3L446.56 322.9M447.8 323.3L447.04 324.35M447.8 323.3L448.56 324.35" stroke="#161616" stroke-width="0.9" stroke-linecap="round" fill="none"/><circle cx="447.8" cy="323.3" r="0.7" fill="#161616"/><path d="M474.4 325.2L474.4 323.9M474.4 325.2L475.64 324.8M474.4 325.2L473.16 324.8M474.4 325.2L473.64 326.25M474.4 325.2L475.16 326.25" stroke="#161616" stroke-width="0.9" stroke-linecap="round" fill="none"/><circle cx="474.4" cy="325.2" r="0.7" fill="#161616"/><path d="M499 237.4L499 236.1M499 237.4L500.24 237M499 237.4L497.76 237M499 237.4L498.24 238.45M499 237.4L499.76 238.45" stroke="#161616" stroke-width="0.9" stroke-linecap="round" fill="none"/><circle cx="499" cy="237.4" r="0.7" fill="#161616"/><path d="M503 237.4L503 236.1M503 237.4L504.24 237M503 237.4L501.76 237M503 237.4L502.24 238.45M503 237.4L503.76 238.45" stroke="#161616" stroke-width="0.9" stroke-linecap="round" fill="none"/><circle cx="503" cy="237.4" r="0.7" fill="#161616"/><path d="M507 237.4L507 236.1M507 237.4L508.24 237M507 237.4L505.76 237M507 237.4L506.24 238.45M507 237.4L507.76 238.45" stroke="#161616" stroke-width="0.9" stroke-linecap="round" fill="none"/><circle cx="507" cy="237.4" r="0.7" fill="#161616"/><text x="310.2" y="376.6" font-size="8.3" text-anchor="end" fill="#1e1e1e" stroke="#1e1e1e" stroke-width="0.25" font-style="italic">Cre</text><text x="310.2" y="389.6" font-size="8.3" text-anchor="end" fill="#1e1e1e" stroke="#1e1e1e" stroke-width="0.25" font-style="italic">Smad5</text><text x="310.2" y="402.6" font-size="8.3" text-anchor="end" fill="#1e1e1e" stroke="#1e1e1e" stroke-width="0.25" font-style="italic">Smad1</text><text x="331.4" y="377.4" font-size="8.3" text-anchor="middle" fill="#1e1e1e" stroke="#1e1e1e" stroke-width="0.25">-</text><text x="345.7" y="377.4" font-size="8.3" text-anchor="middle" fill="#1e1e1e" stroke="#1e1e1e" stroke-width="0.25">+</text><text x="360" y="377.4" font-size="8.3" text-anchor="middle" fill="#1e1e1e" stroke="#1e1e1e" stroke-width="0.25">-</text><text x="374.3" y="377.4" font-size="8.3" text-anchor="middle" fill="#1e1e1e" stroke="#1e1e1e" stroke-width="0.25">+</text><text x="388.6" y="377.4" font-size="8.3" text-anchor="middle" fill="#1e1e1e" stroke="#1e1e1e" stroke-width="0.25">-</text><text x="402.9" y="377.4" font-size="8.3" text-anchor="middle" fill="#1e1e1e" stroke="#1e1e1e" stroke-width="0.25">+</text><text x="431.5" y="377.4" font-size="8.3" text-anchor="middle" fill="#1e1e1e" stroke="#1e1e1e" stroke-width="0.25">-</text><text x="445.8" y="377.4" font-size="8.3" text-anchor="middle" fill="#1e1e1e" stroke="#1e1e1e" stroke-width="0.25">+</text><text x="460.1" y="377.4" font-size="8.3" text-anchor="middle" fill="#1e1e1e" stroke="#1e1e1e" stroke-width="0.25">-</text><text x="474.4" y="377.4" font-size="8.3" text-anchor="middle" fill="#1e1e1e" stroke="#1e1e1e" stroke-width="0.25">+</text><text x="488.7" y="377.4" font-size="8.3" text-anchor="middle" fill="#1e1e1e" stroke="#1e1e1e" stroke-width="0.25">-</text><text x="503" y="377.4" font-size="8.3" text-anchor="middle" fill="#1e1e1e" stroke="#1e1e1e" stroke-width="0.25">+</text><text x="338.55" y="389.6" font-size="8.3" text-anchor="middle" fill="#1e1e1e" stroke="#1e1e1e" stroke-width="0.25" font-style="italic">fl/fl</text><text x="338.55" y="402.6" font-size="8.3" text-anchor="middle" fill="#1e1e1e" stroke="#1e1e1e" stroke-width="0.25" font-style="italic">fl/wt</text><text x="367.15" y="389.6" font-size="8.3" text-anchor="middle" fill="#1e1e1e" stroke="#1e1e1e" stroke-width="0.25" font-style="italic">fl/wt</text><text x="367.15" y="402.6" font-size="8.3" text-anchor="middle" fill="#1e1e1e" stroke="#1e1e1e" stroke-width="0.25" font-style="italic">fl/fl</text><text x="395.75" y="389.6" font-size="8.3" text-anchor="middle" fill="#1e1e1e" stroke="#1e1e1e" stroke-width="0.25" font-style="italic">fl/fl</text><text x="395.75" y="402.6" font-size="8.3" text-anchor="middle" fill="#1e1e1e" stroke="#1e1e1e" stroke-width="0.25" font-style="italic">fl/fl</text><text x="438.65" y="389.6" font-size="8.3" text-anchor="middle" fill="#1e1e1e" stroke="#1e1e1e" stroke-width="0.25" font-style="italic">fl/fl</text><text x="438.65" y="402.6" font-size="8.3" text-anchor="middle" fill="#1e1e1e" stroke="#1e1e1e" stroke-width="0.25" font-style="italic">fl/wt</text><text x="467.25" y="389.6" font-size="8.3" text-anchor="middle" fill="#1e1e1e" stroke="#1e1e1e" stroke-width="0.25" font-style="italic">fl/wt</text><text x="467.25" y="402.6" font-size="8.3" text-anchor="middle" fill="#1e1e1e" stroke="#1e1e1e" stroke-width="0.25" font-style="italic">fl/fl</text><text x="495.85" y="389.6" font-size="8.3" text-anchor="middle" fill="#1e1e1e" stroke="#1e1e1e" stroke-width="0.25" font-style="italic">fl/fl</text><text x="495.85" y="402.6" font-size="8.3" text-anchor="middle" fill="#1e1e1e" stroke="#1e1e1e" stroke-width="0.25" font-style="italic">fl/fl</text><rect x="0.75" y="0.75" width="518.5" height="410.5" fill="none" stroke="#000" stroke-width="1.5"/></svg>
</body></html>
